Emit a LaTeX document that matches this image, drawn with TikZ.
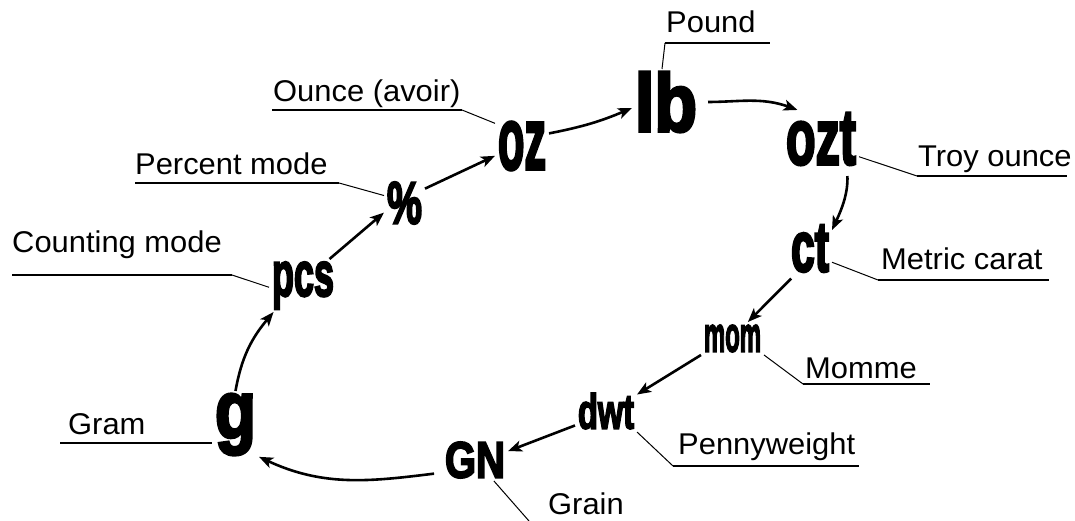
\documentclass[tikz,border=0pt]{standalone}
\usepackage{fontspec}
\usepackage{graphicx}
\usetikzlibrary{arrows.meta}
\newfontfamily\symfam{Liberation Sans}[FakeBold=4]
\newfontfamily\lblfam{Liberation Sans}[FakeStretch=1.03]
\newcommand{\symb}[3]{\resizebox*{#1pt}{#2pt}{\symfam\bfseries #3}}
\tikzset{
 sym/.style={inner sep=0pt,outer sep=3pt},
 lbl/.style={anchor=base west,inner sep=0pt,font=\lblfam\fontsize{30}{34}\selectfont},
 arr/.style={line width=2.6pt,-{Stealth[length=14pt,width=11pt,inset=3.5pt]}},
 lead/.style={line width=1pt},
 uline/.style={line width=2pt},
}
\begin{document}
\begin{tikzpicture}[x=1pt,y=1pt]
\useasboundingbox (0,0) rectangle (1075,521);
% unit symbols
\node[sym] (lb)  at (666,419)     {\symb{62}{60}{lb}};
\node[sym] (oz)  at (522,375)     {\symb{48}{48}{oz}};
\node[sym] (ozt) at (821,382)     {\symb{70}{52}{ozt}};
\node[sym] (ct)  at (810,272.5)   {\symb{38}{47}{ct}};
\node[sym] (mom) at (732.5,182.5) {\symb{57}{27}{mom}};
\node[sym] (dwt) at (606,110)     {\symb{56}{36}{dwt}};
\node[sym] (GN)  at (475,61)      {\symb{60}{36}{GN}};
\node[sym] (g)   at (235.5,96.5)  {\symb{41}{61}{g}};
\node[sym] (pcs) at (303,235.5)   {\symb{62}{47}{pcs}};
\node[sym] (pct) at (404.5,318)   {\symb{35}{42}{\%}};
% labels
\node[lbl] (tPound)   at (666,488) {Pound};
\node[lbl] (tOunce)   at (273,419) {Ounce (avoir)};
\node[lbl] (tPercent) at (135,346) {Percent mode};
\node[lbl] (tCount)   at (12,268)  {Counting mode};
\node[lbl] (tGram)    at (68,86)   {Gram};
\node[lbl] (tGrain)   at (548,6)   {Grain};
\node[lbl] (tPenny)   at (678,66)  {Pennyweight};
\node[lbl] (tMomme)   at (805,142) {Momme};
\node[lbl] (tMetric)  at (881,251) {Metric carat};
\node[lbl] (tTroy)    at (918,354) {Troy ounce};
% underline coordinates
\coordinate (aPound) at (665,478);   \coordinate (bPound) at (770,478);
\coordinate (aOunce) at (272,411);   \coordinate (bOunce) at (462,411);
\coordinate (aPercent) at (135,338); \coordinate (bPercent) at (339,338);
\coordinate (aCount) at (12,246);    \coordinate (bCount) at (232,246);
\coordinate (aGram) at (60,78);
\coordinate (eGrain) at (529,0);
\coordinate (aPenny) at (673,55);    \coordinate (bPenny) at (859,55);
\coordinate (aMomme) at (803,137);   \coordinate (bMomme) at (930,137);
\coordinate (aMetric) at (878,241);  \coordinate (bMetric) at (1049,241);
\coordinate (aTroy) at (917,345);    \coordinate (bTroy) at (1067,345);
% underlines
\draw[uline] (aPound) -- (bPound);
\draw[uline] (aOunce) -- (bOunce);
\draw[uline] (aPercent) -- (bPercent);
\draw[uline] (aCount) -- (bCount);
\draw[uline] (aGram) -- (aGram -| g.west);
\draw[uline] (aPenny) -- (bPenny);
\draw[uline] (aMomme) -- (bMomme);
\draw[uline] (aMetric) -- (bMetric);
\draw[uline] (aTroy) -- (bTroy);
% leaders
\draw[lead] (aPound) -- ([xshift=-4pt]lb.north);
\draw[lead] (bOunce) -- (oz.140);
\draw[lead] (bPercent) -- (pct.160);
\draw[lead] (bCount) -- (pcs.183);
\draw[lead] (GN.-48) -- (eGrain);
\draw[lead] (dwt.south east) -- (aPenny);
\draw[lead] (mom.south east) -- (aMomme);
\draw[lead] (ct.-32) -- (aMetric);
\draw[lead] (ozt.-25) -- (aTroy);
% arrows
\draw[arr] (g.north) to[out=80,in=230] (pcs.222);
\draw[arr] (pcs.45) -- (pct.205);
\draw[arr] (pct.35) -- (oz.200);
\draw[arr] (oz.25) to[bend right=6] (lb.190);
\draw[arr,shorten <=8pt] (lb.0) to[out=0,in=160] (ozt.129);
\draw[arr,shorten <=8pt] (ozt.-48) to[out=-88,in=65] (ct.40);
\draw[arr,shorten <=5pt] (ct.240) -- (mom.47);
\draw[arr] (mom.south west) -- (dwt.28);
\draw[arr] (dwt.205) -- (GN.15);
\draw[arr,shorten <=8pt] (GN.201) to[out=187,in=-25] (g.-54);
\end{tikzpicture}
\end{document}
